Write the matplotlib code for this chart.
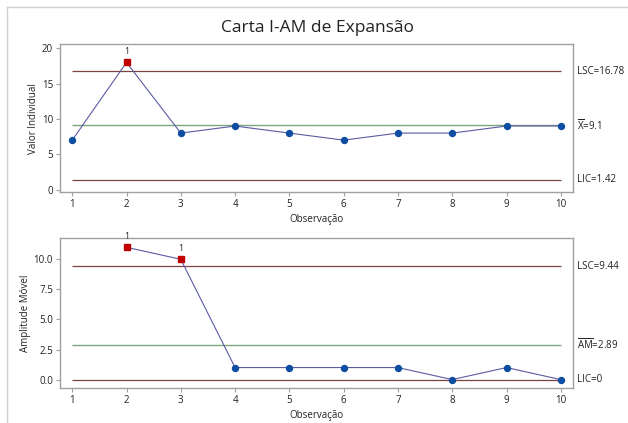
import numpy as np
import matplotlib
matplotlib.use("Agg")
import matplotlib.pyplot as plt
from matplotlib.lines import Line2D

plt.rcParams['font.family'] = ['Open Sans', 'DejaVu Sans']
plt.rcParams['mathtext.fontset'] = 'custom'
plt.rcParams['mathtext.rm'] = 'Open Sans'

# dados
obs = [1, 2, 3, 4, 5, 6, 7, 8, 9, 10]
valores = [7, 18, 8, 9, 8, 7, 8, 8, 9, 9]
obs_am = [2, 3, 4, 5, 6, 7, 8, 9, 10]
amplitudes = [11, 10, 1, 1, 1, 1, 0, 1, 0]

lsc_i, media_i, lic_i = 16.78, 9.1, 1.42
lsc_am, media_am, lic_am = 9.44, 2.89, 0

c_linha = '#5b5ba3'
c_ponto = '#0d4ea3'
c_fora = '#c00000'
c_lim = '#7a4343'
c_cent = '#7ea47e'
c_eixo = '#a0a0a0'

W, H = 628, 423
fig = plt.figure(figsize=(W / 100, H / 100), dpi=100)

# moldura da figura (topo e esquerda)
fig.add_artist(Line2D([7 / W, 7 / W], [0, 1 - 7 / H], color='#d0d0d0', lw=1))
fig.add_artist(Line2D([7 / W, 1], [1 - 7 / H, 1 - 7 / H], color='#d0d0d0', lw=1))

fig.text(0.5 + 3 / W, 1 - 28 / H, 'Carta I-AM de Expansão', ha='center', va='center',
         fontsize=12.5, color='#222222')


def painel(ax, x, y, lsc, cent, lic, rotulos, ylim, yticks, ylabel, fmt):
    ax.hlines([lsc, lic], 1, 10, color=c_lim, lw=0.9, zorder=1)
    ax.hlines(cent, 1, 10, color=c_cent, lw=1.0, zorder=1)
    ax.plot(x, y, color=c_linha, lw=0.8, zorder=2)
    fora = [(a, b) for a, b in zip(x, y) if b > lsc or b < lic]
    dentro = [(a, b) for a, b in zip(x, y) if lic <= b <= lsc]
    ax.plot([p[0] for p in dentro], [p[1] for p in dentro], 'o', color=c_ponto,
            ms=4.3, zorder=3)
    ax.plot([p[0] for p in fora], [p[1] for p in fora], 's', color=c_fora,
            ms=5, zorder=3)
    for a, b in fora:
        ax.annotate('1', (a, b), xytext=(0, 4.5), textcoords='offset points',
                    ha='center', va='bottom', fontsize=6.3, color='#222222')
    ax.set_xlim(0.775, 10.225)
    ax.set_ylim(*ylim)
    ax.set_xticks(obs)
    ax.set_yticks(yticks)
    ax.set_yticklabels([fmt.format(v) for v in yticks])
    ax.tick_params(labelsize=7, length=3, width=0.8, color=c_eixo, pad=2,
                   labelcolor='#222222')
    for s in ax.spines.values():
        s.set_color(c_eixo)
        s.set_linewidth(1)
    ax.set_xlabel('Observação', fontsize=7, color='#222222', labelpad=3)
    ax.set_ylabel(ylabel, fontsize=7, color='#222222', labelpad=2)
    tr = ax.get_yaxis_transform()
    for val, txt in zip([lsc, cent, lic], rotulos):
        ax.text(1.008, val, txt, transform=tr, ha='left', va='center',
                fontsize=7, color='#222222')


ax1 = fig.add_axes([60 / W, 1 - 192 / H, 513 / W, 147.5 / H])
painel(ax1, obs, valores, lsc_i, media_i, lic_i,
       ['LSC=16.78', r'$\overline{\mathrm{X}}$=9.1', 'LIC=1.42'],
       (-0.34, 20.54), [0, 5, 10, 15, 20], 'Valor Individual', '{:.0f}')

ax2 = fig.add_axes([60 / W, 1 - 388 / H, 513 / W, 149.5 / H])
painel(ax2, obs_am, amplitudes, lsc_am, media_am, lic_am,
       ['LSC=9.44', r'$\overline{\mathrm{AM}}$=2.89', 'LIC=0'],
       (-0.7, 11.73), [0, 2.5, 5, 7.5, 10], 'Amplitude Móvel', '{:.1f}')

fig.savefig('out.png', dpi=100)
